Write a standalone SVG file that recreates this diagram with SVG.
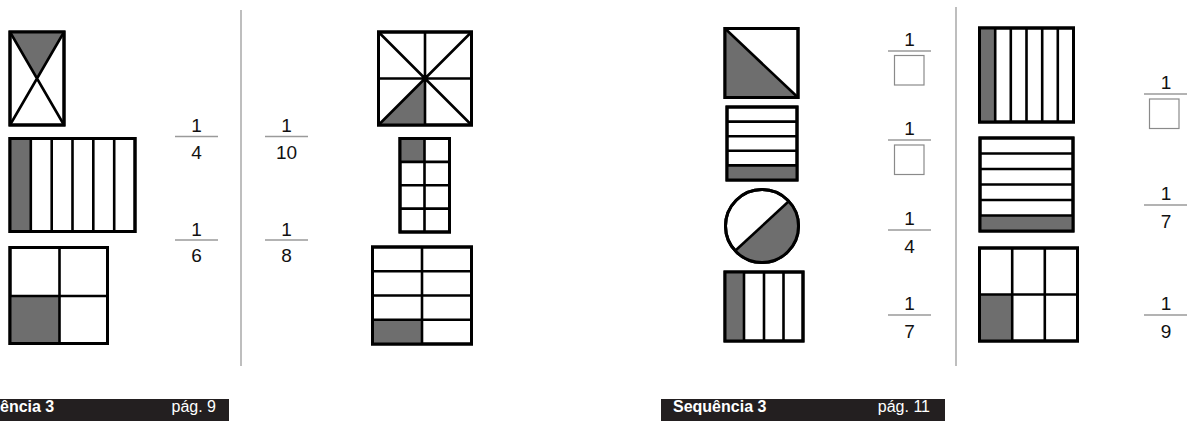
<svg xmlns="http://www.w3.org/2000/svg" width="1188" height="421" viewBox="0 0 1188 421">
<style>
.o{fill:#fff;stroke:#000;stroke-width:3;stroke-linejoin:miter}
.s{fill:#6e6e6e;stroke:none}
.l{stroke:#000;stroke-width:2.6;fill:none}
.fl{stroke:#9a9a9a;stroke-width:1.6}
.bx{fill:#fff;stroke:#8a8a8a;stroke-width:1.2}
.n{font-family:"Liberation Sans",Arial,sans-serif;font-size:19px;fill:#111;text-anchor:middle}
.sep{stroke:#a8a8a8;stroke-width:1.5}
.ft{font-family:"Liberation Sans",Arial,sans-serif;font-size:16px;fill:#fff}
</style>
<rect width="1188" height="421" fill="#fff"/>
<g id="separators">
<line class="sep" x1="241" y1="10" x2="241" y2="366"/>
<line class="sep" x1="956" y1="7" x2="956" y2="366"/>
</g>
<g id="fig-x-rect">
<rect class="o" x="10" y="32" width="54" height="93"/>
<polygon class="s" points="10,32 64,32 37,78.5"/>
<path class="l" d="M10 32L64 125M64 32L10 125"/>
<rect class="o" x="10" y="32" width="54" height="93" fill="none" style="fill:none"/>
</g>
<g id="fig-6-vstrips-left">
<rect class="o" x="10" y="138.5" width="125" height="93"/>
<rect class="s" x="10" y="138.5" width="20.8" height="93"/>
<path class="l" d="M30.8 138.5V231.5M51.7 138.5V231.5M72.5 138.5V231.5M93.3 138.5V231.5M114.2 138.5V231.5"/>
<rect class="o" x="10" y="138.5" width="125" height="93" style="fill:none"/>
</g>
<g id="fig-2x2-grid">
<rect class="o" x="10" y="247.5" width="97.5" height="96"/>
<rect class="s" x="10" y="296" width="49.5" height="47.5"/>
<path class="l" d="M59.5 247.5V343.5M10 296H107.5"/>
<rect class="o" x="10" y="247.5" width="97.5" height="96" style="fill:none"/>
</g>
<g id="frac-1-4-left">
<text class="n" x="196.5" y="132">1</text>
<line class="fl" x1="175" y1="136.5" x2="218" y2="136.5"/>
<text class="n" x="196.5" y="158.5">4</text>
</g>
<g id="frac-1-6">
<text class="n" x="196.5" y="235.5">1</text>
<line class="fl" x1="175" y1="240" x2="218" y2="240"/>
<text class="n" x="196.5" y="262">6</text>
</g>
<g id="frac-1-10">
<text class="n" x="286.5" y="132">1</text>
<line class="fl" x1="265" y1="136.5" x2="308" y2="136.5"/>
<text class="n" x="286.5" y="158.5">10</text>
</g>
<g id="frac-1-8">
<text class="n" x="286.5" y="235.5">1</text>
<line class="fl" x1="265" y1="240" x2="308" y2="240"/>
<text class="n" x="286.5" y="262">8</text>
</g>
<g id="fig-8-triangles">
<rect class="o" x="378.5" y="32" width="93" height="93"/>
<polygon class="s" points="378.5,125 425,78.5 425,125"/>
<path class="l" d="M378.5 32L471.5 125M471.5 32L378.5 125M425 32V125M378.5 78.5H471.5"/>
<rect class="o" x="378.5" y="32" width="93" height="93" style="fill:none"/>
</g>
<g id="fig-tall-grid">
<rect class="o" x="400" y="138.5" width="49.5" height="93.5"/>
<rect class="s" x="400" y="138.5" width="24.5" height="23.4"/>
<path class="l" d="M424.5 138.5V232M400 161.9H449.5M400 185.3H449.5M400 208.6H449.5"/>
<rect class="o" x="400" y="138.5" width="49.5" height="93.5" style="fill:none"/>
</g>
<g id="fig-wide-grid">
<rect class="o" x="372.5" y="247" width="99" height="97"/>
<rect class="s" x="372.5" y="320.5" width="49.5" height="23.5"/>
<path class="l" d="M422 247V344M372.5 271.2H471.5M372.5 295.5H471.5M372.5 319.8H471.5"/>
<rect class="o" x="372.5" y="247" width="99" height="97" style="fill:none"/>
</g>
<g id="footer-left">
<rect x="0" y="399" width="229" height="22" fill="#231f20"/>
<text class="ft" x="0" y="412" font-weight="bold">ência 3</text>
<text class="ft" x="216" y="412" text-anchor="end">pág. 9</text>
</g>
<g id="fig-diag-square">
<rect class="o" x="725" y="28.5" width="73" height="69"/>
<polygon class="s" points="725,28.5 798,97.5 725,97.5"/>
<path class="l" d="M725 28.5L798 97.5"/>
<rect class="o" x="725" y="28.5" width="73" height="69" style="fill:none"/>
</g>
<g id="fig-5-hstrips">
<rect class="o" x="727" y="107" width="70" height="73"/>
<rect class="s" x="727" y="165.4" width="70" height="14.6"/>
<path class="l" d="M727 121.6H797M727 136.2H797M727 150.8H797M727 165.4H797"/>
<rect class="o" x="727" y="107" width="70" height="73" style="fill:none"/>
</g>
<g id="fig-circle">
<circle class="o" cx="762" cy="226" r="36.5"/>
<path class="s" d="M788.8 201.2A36.5 36.5 0 0 1 735.2 250.8Z"/>
<path class="l" d="M788.8 201.2L735.2 250.8"/>
<circle class="o" cx="762" cy="226" r="36.5" style="fill:none"/>
</g>
<g id="fig-4-vstrips">
<rect class="o" x="725" y="272" width="78" height="69"/>
<rect class="s" x="725" y="272" width="19" height="69"/>
<path class="l" d="M744 272V341M764 272V341M783.5 272V341"/>
<rect class="o" x="725" y="272" width="78" height="69" style="fill:none"/>
</g>
<g id="frac-1-box-a">
<text class="n" x="909.5" y="45.5">1</text>
<line class="fl" x1="888" y1="51" x2="931" y2="51"/>
<rect class="bx" x="894.5" y="55.5" width="29.5" height="29.5"/>
</g>
<g id="frac-1-box-b">
<text class="n" x="909.5" y="134.5">1</text>
<line class="fl" x1="888" y1="140" x2="931" y2="140"/>
<rect class="bx" x="894.5" y="145" width="29.5" height="29.5"/>
</g>
<g id="frac-1-4-right">
<text class="n" x="909.5" y="224.5">1</text>
<line class="fl" x1="888" y1="230" x2="931" y2="230"/>
<text class="n" x="909.5" y="253">4</text>
</g>
<g id="frac-1-7-a">
<text class="n" x="909.5" y="309.5">1</text>
<line class="fl" x1="888" y1="315" x2="931" y2="315"/>
<text class="n" x="909.5" y="338">7</text>
</g>
<g id="fig-6-vstrips-right">
<rect class="o" x="979.5" y="28" width="94" height="94"/>
<rect class="s" x="979.5" y="28" width="15.7" height="94"/>
<path class="l" d="M995.2 28V122M1010.8 28V122M1026.5 28V122M1042.2 28V122M1057.8 28V122"/>
<rect class="o" x="979.5" y="28" width="94" height="94" style="fill:none"/>
</g>
<g id="fig-6-hstrips">
<rect class="o" x="980" y="138" width="93" height="93"/>
<rect class="s" x="980" y="215.5" width="93" height="15.5"/>
<path class="l" d="M980 153.5H1073M980 169H1073M980 184.5H1073M980 200H1073M980 215.5H1073"/>
<rect class="o" x="980" y="138" width="93" height="93" style="fill:none"/>
</g>
<g id="fig-3x2-grid">
<rect class="o" x="979.5" y="248" width="98" height="93"/>
<rect class="s" x="979.5" y="294.5" width="32.7" height="46.5"/>
<path class="l" d="M1012.2 248V341M1044.8 248V341M979.5 294.5H1077.5"/>
<rect class="o" x="979.5" y="248" width="98" height="93" style="fill:none"/>
</g>
<g id="frac-1-box-c">
<text class="n" x="1166" y="88.5">1</text>
<line class="fl" x1="1144" y1="94" x2="1187" y2="94"/>
<rect class="bx" x="1149.5" y="99" width="29.5" height="29.5"/>
</g>
<g id="frac-1-7-b">
<text class="n" x="1166" y="199.5">1</text>
<line class="fl" x1="1144" y1="205" x2="1187" y2="205"/>
<text class="n" x="1166" y="228">7</text>
</g>
<g id="frac-1-9">
<text class="n" x="1166" y="309.5">1</text>
<line class="fl" x1="1144" y1="315" x2="1187" y2="315"/>
<text class="n" x="1166" y="338">9</text>
</g>
<g id="footer-right">
<rect x="661" y="399" width="284" height="22" fill="#231f20"/>
<text class="ft" x="673" y="412" font-weight="bold">Sequência 3</text>
<text class="ft" x="930" y="412" text-anchor="end">pág. 11</text>
</g>
</svg>
